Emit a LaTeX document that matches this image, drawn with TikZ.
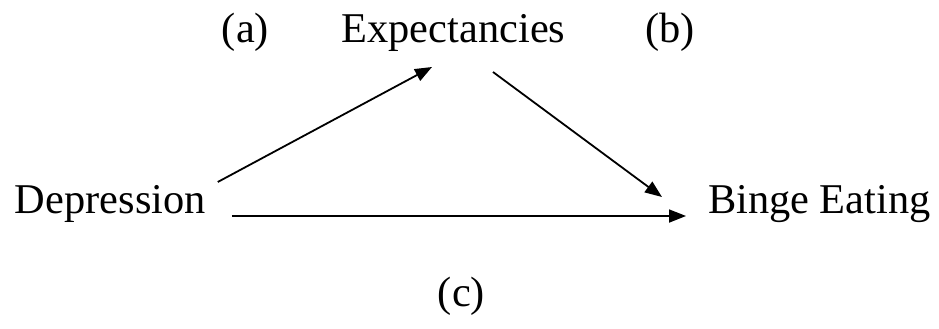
\documentclass[tikz,border=0pt]{standalone}
\usepackage{fontspec}
\setmainfont{Liberation Serif}
\usetikzlibrary{arrows.meta,calc}

\begin{document}
\begin{tikzpicture}[
  x=0.5pt, y=-0.5pt,
  font=\fontsize{21.2}{26}\selectfont,
  >={Triangle[length=8.5pt, width=6.5pt]},
  lbl/.style={inner sep=0pt, outer sep=0pt},
  flow/.style={->, line width=0.9pt}
]
\useasboundingbox (0,0) rectangle (939,328);

\node[lbl, anchor=base] (a) at (245.5,42) {(a)};
\node[lbl, anchor=base] (exp) at (453.5,42) {Expectancies};
\node[lbl, anchor=base] (b) at (670,42) {(b)};
\node[lbl, anchor=base west] (dep) at (15,213) {Depression};
\node[lbl, anchor=base west] (bin) at (708,213) {Binge Eating};
\node[lbl, anchor=base] (c) at (461.5,306) {(c)};

\draw[flow] ($(dep.base east)+(12,-31)$) -- ($(exp.base)+(-21.5,25)$);
\draw[flow] ($(exp.base)+(39.5,30)$) -- ($(bin.base west)+(-46,-16)$);
\draw[flow] ($(dep.base east)+(26,3)$) -- ($(bin.base west)+(-22,3)$);
\end{tikzpicture}
\end{document}
